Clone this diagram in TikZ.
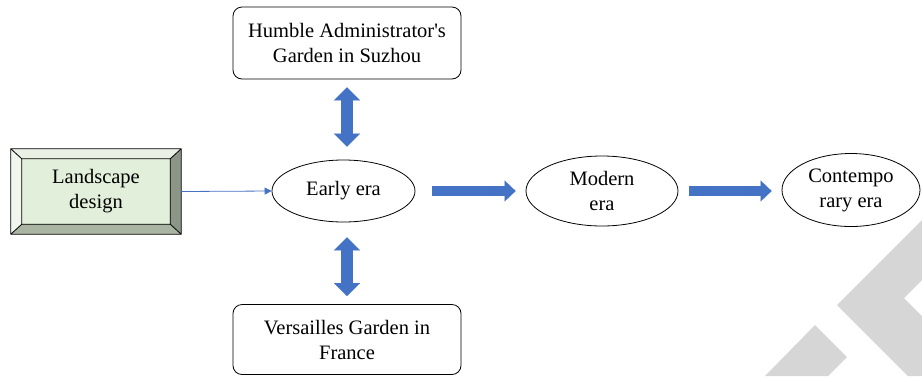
\documentclass[tikz,border=0pt]{standalone}
\usepackage{fontspec}
\setmainfont{Liberation Serif}[Ligatures=TeXOff]
\usetikzlibrary{shapes.geometric,arrows.meta,calc,backgrounds}
\definecolor{flowblue}{HTML}{4472C4}
\definecolor{bevelface}{HTML}{E2EFDA}
\definecolor{bevellight}{HTML}{EAF1E4}
\definecolor{bevelpale}{HTML}{F1F6EE}
\definecolor{beveldark}{HTML}{8C9688}
\definecolor{bevelmid}{HTML}{AAB4A3}
\definecolor{markgray}{HTML}{D6D6D6}
\begin{document}
\begin{tikzpicture}[x=1pt,y=-1pt,
  every node/.style={font=\fontsize{20.5}{25}\selectfont, align=center, inner sep=0pt},
  era/.style={draw, ellipse, line width=0.8pt},
  garden/.style={draw, rounded corners=9pt, line width=0.8pt, minimum width=228pt},
  blockflow/.style={flowblue, line width=10pt, -{Triangle[length=11pt,width=21pt,line width=0.01pt]}},
  blockpair/.style={flowblue, line width=12pt,
    {Triangle[length=13pt,width=26pt,line width=0.01pt]}-{Triangle[length=13pt,width=26pt,line width=0.01pt]}},
  thinflow/.style={flowblue, line width=0.8pt, -{Triangle[length=7pt,width=7pt]}}
]
\useasboundingbox (0,0) rectangle (922,376);

% watermark chevrons in the lower right corner
\fill[markgray] (837,305) -- (922,220) -- (922,280) -- (904,298) -- (922,316) -- (922,376) -- (908,376) -- cycle;
\fill[markgray] (765,376) -- (815,325) -- (847,357) -- (828,376) -- cycle;

% nodes
\node[minimum width=170pt, minimum height=85pt] (landscape) at (96,191.5) {Landscape\\design};
\node[era, minimum width=143pt, minimum height=62pt] (early) at (343.5,191) {Early era};
\node[era, minimum width=152pt, minimum height=70pt] (modern) at (602,191) {Modern\\era};
\node[era, minimum width=138pt, minimum height=73pt] (contemp) at (851,190) {Contempo\\rary era};
\node[garden, minimum height=72pt] (suzhou) at (347,43) {Humble Administrator's\\Garden in Suzhou};
\node[garden, minimum height=70pt] (versailles) at (347,339.5) {Versailles Garden in\\France};

% bevelled frame of the landscape box
\begin{pgfonlayer}{background}
  \coordinate (onw) at (landscape.north west);
  \coordinate (one) at (landscape.north east);
  \coordinate (osw) at (landscape.south west);
  \coordinate (ose) at (landscape.south east);
  \coordinate (inw) at ($(onw)+(11,10)$);
  \coordinate (ine) at ($(one)+(-11,10)$);
  \coordinate (isw) at ($(osw)+(11,-10)$);
  \coordinate (ise) at ($(ose)+(-11,-10)$);
  \fill[bevellight] (onw) -- (one) -- (ine) -- (inw) -- cycle;
  \fill[bevelpale] (onw) -- (inw) -- (isw) -- (osw) -- cycle;
  \fill[beveldark] (one) -- (ose) -- (ise) -- (ine) -- cycle;
  \fill[bevelmid] (osw) -- (isw) -- (ise) -- (ose) -- cycle;
  \fill[bevelface] (inw) rectangle (ise);
  \draw[line width=0.8pt] (onw) rectangle (ose) (inw) rectangle (ise)
    (onw) -- (inw) (one) -- (ine) (osw) -- (isw) (ose) -- (ise);
\end{pgfonlayer}

% connectors
\draw[thinflow] (landscape.east) -- (early.west);
\draw[blockflow] ([xshift=17pt]early.east) -- ([xshift=-10pt]modern.west);
\draw[blockflow] ([xshift=11pt]modern.east) -- ([xshift=-10pt]contemp.west |- modern.east);
\draw[blockpair] ([yshift=-8pt]suzhou.south) -- ([yshift=13pt]suzhou.south |- early.north);
\draw[blockpair] ([yshift=-15pt]versailles.north |- early.south) -- ([yshift=8pt]versailles.north);
\end{tikzpicture}
\end{document}
